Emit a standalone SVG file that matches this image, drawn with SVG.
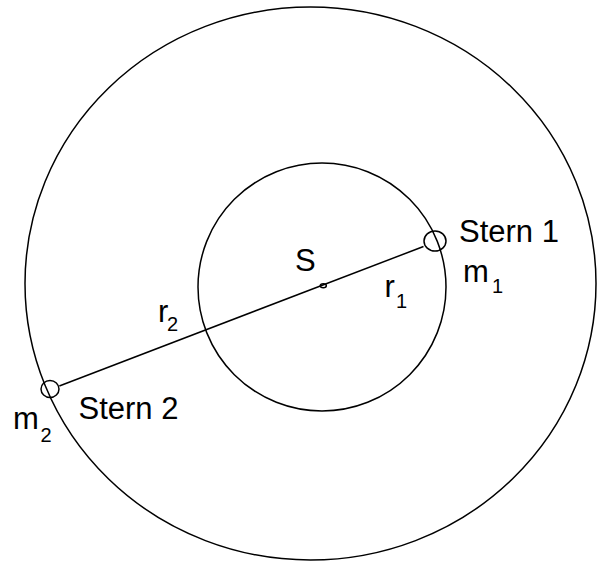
<svg xmlns="http://www.w3.org/2000/svg" width="600" height="564" viewBox="0 0 600 564">
<style>
.o{fill:none;stroke:#000;stroke-width:1.5}
.t{font-family:"Liberation Sans",Arial,sans-serif;font-size:31px;fill:#000}
.s{font-family:"Liberation Sans",Arial,sans-serif;font-size:20px;fill:#000}
</style>
<rect width="600" height="564" fill="#fff"/>
<g id="outer-orbit"><ellipse class="o" cx="310.5" cy="283.5" rx="285.5" ry="276.5"/></g>
<g id="inner-orbit"><circle class="o" cx="322" cy="287" r="124"/></g>
<g id="connectors"><line class="o" x1="59.3" y1="386" x2="423.5" y2="246.5"/></g>
<g id="center-S"><ellipse class="o" cx="323.3" cy="285.7" rx="3" ry="2" stroke-width="1.2"/><text class="t" x="295" y="271">S</text></g>
<g id="star1"><ellipse class="o" cx="435" cy="241" rx="11" ry="10"/><text class="t" x="459" y="242">Stern 1</text><text class="t" x="463" y="282">m</text><text class="s" x="492" y="293">1</text></g>
<g id="star2"><ellipse class="o" cx="50" cy="389" rx="9" ry="8.5"/><text class="t" x="78.5" y="419">Stern 2</text><text class="t" x="13" y="429">m</text><text class="s" x="40.5" y="442">2</text></g>
<g id="label-r1"><text class="t" x="384.5" y="297">r</text><text class="s" x="396" y="308">1</text></g>
<g id="label-r2"><text class="t" x="158" y="322">r</text><text class="s" x="167" y="331">2</text></g>
</svg>
